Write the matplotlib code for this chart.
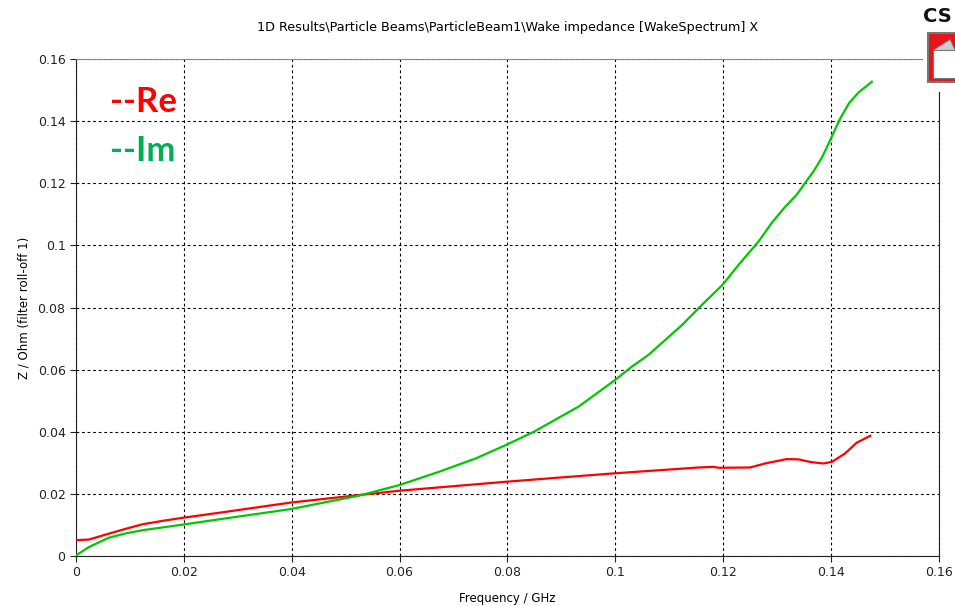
"""
Wake impedance X (CST, ParticleBeam1): Re e Im frente a la frecuencia.
Guarda out.png.
"""

import matplotlib.pyplot as plt
from matplotlib.patches import Rectangle, Polygon

# Datos (GHz, Ohm)
f_re = [0.0, 0.0024, 0.0061, 0.0093, 0.0123, 0.0160, 0.0198, 0.0277, 0.0398,
        0.0524, 0.0599, 0.0797, 0.0997, 0.1155, 0.1182, 0.1192, 0.125, 0.1278,
        0.1318, 0.134, 0.1364, 0.1386, 0.1402, 0.1426, 0.1448, 0.1473]
z_re = [0.0051, 0.0053, 0.0072, 0.0088, 0.0102, 0.0113, 0.0123, 0.0142, 0.0172,
        0.0196, 0.0210, 0.0239, 0.0266, 0.0285, 0.0287, 0.0284, 0.0285, 0.0298,
        0.0312, 0.0311, 0.0302, 0.0298, 0.0303, 0.0330, 0.0365, 0.0387]

f_im = [0.0, 0.0024, 0.0061, 0.0093, 0.0123, 0.0198, 0.0277, 0.0398, 0.0524,
        0.0599, 0.0673, 0.0741, 0.0797, 0.0849, 0.0932, 0.1, 0.1031, 0.1062,
        0.1093, 0.1124, 0.1161, 0.1199, 0.1229, 0.1266, 0.129, 0.1315, 0.1337,
        0.1352, 0.1368, 0.1383, 0.1395, 0.1405, 0.1417, 0.1434, 0.1451, 0.1476]
z_im = [0.0002, 0.0029, 0.0059, 0.0073, 0.0083, 0.0101, 0.0121, 0.0151, 0.0194,
        0.0228, 0.0271, 0.0314, 0.0357, 0.0400, 0.0481, 0.0567, 0.0610, 0.0648,
        0.0696, 0.0744, 0.0809, 0.0873, 0.0938, 0.1013, 0.1072, 0.1124, 0.1164,
        0.1201, 0.1239, 0.1282, 0.1325, 0.1363, 0.1408, 0.1459, 0.1492, 0.1527]

ticks = [0, 0.02, 0.04, 0.06, 0.08, 0.1, 0.12, 0.14, 0.16]
tick_labels = ["0", "0.02", "0.04", "0.06", "0.08", "0.1", "0.12", "0.14", "0.16"]

fig = plt.figure(figsize=(9.55, 6.06), dpi=100)
ax = fig.add_axes([0.0796, 0.0825, 0.9034, 0.8201])

ax.plot(f_re, z_re, color="#ff0000", linewidth=1.6, zorder=3)
ax.plot(f_im, z_im, color="#00c800", linewidth=1.6, zorder=3)

ax.set_xlim(0, 0.16)
ax.set_ylim(0, 0.16)
ax.set_xticks(ticks, tick_labels)
ax.set_yticks(ticks, tick_labels)
ax.tick_params(direction="out", length=4, labelsize=9, colors="#222222")
ax.grid(True, color="black", linestyle=(0, (2.5, 2.5)), linewidth=0.8)
ax.spines["top"].set_color("#888888")
for s in ("left", "bottom", "right"):
    ax.spines[s].set_color("#222222")

ax.set_xlabel("Frequency / GHz", fontsize=8.5, labelpad=9)
ax.set_ylabel("Z / Ohm (filter roll-off 1)", fontsize=8.5, labelpad=5)
fig.text(0.531, 0.955, r"1D Results\Particle Beams\ParticleBeam1\Wake impedance [WakeSpectrum] X",
         ha="center", va="center", fontsize=9.2)

# Leyenda escrita a mano
ax.text(0.0063, 0.1463, "--Re", color="#ff0000", fontsize=25, fontweight="bold",
        family="Lato", va="center")
ax.text(0.0063, 0.1303, "--Im", color="#00b050", fontsize=25, fontweight="bold",
        family="Lato", va="center")

# Logo CST recortado en la esquina
fig.patches.append(Rectangle((0.966, 0.848), 0.034, 0.152, transform=fig.transFigure,
                             facecolor="white", edgecolor="none", zorder=5))
fig.patches.append(Rectangle((0.972, 0.865), 0.04, 0.08, transform=fig.transFigure,
                             facecolor="#e8141c", edgecolor="#777777", linewidth=1.5, zorder=6))
fig.patches.append(Rectangle((0.977, 0.872), 0.04, 0.045, transform=fig.transFigure,
                             facecolor="white", edgecolor="#777777", linewidth=0.8, zorder=7))
fig.patches.append(Polygon([(0.977, 0.917), (0.995, 0.935), (1.0, 0.917)], closed=True,
                           transform=fig.transFigure, facecolor="#cccccc",
                           edgecolor="#777777", linewidth=0.6, zorder=7))
fig.text(0.966, 0.972, "CS", fontsize=14, fontweight="bold", color="#111111",
         va="center", ha="left", zorder=8)

fig.savefig("out.png", dpi=100)
